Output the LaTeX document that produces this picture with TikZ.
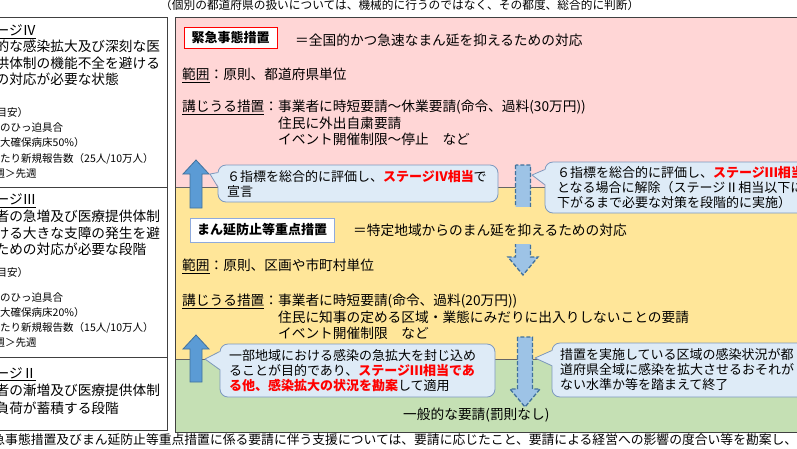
\documentclass[tikz,border=0pt]{standalone}
\usepackage{fontspec}
\setmainfont{Noto Sans CJK JP}
\usetikzlibrary{calc}
\definecolor{stagePink}{RGB}{255,214,214}
\definecolor{stageYellow}{RGB}{255,230,153}
\definecolor{stageGreen}{RGB}{197,224,180}
\definecolor{noteFill}{RGB}{222,235,247}
\definecolor{noteLine}{RGB}{124,152,190}
\definecolor{arrowFill}{RGB}{91,155,213}
\definecolor{arrowLine}{RGB}{65,113,156}
\definecolor{arrowPale}{RGB}{157,195,230}
\definecolor{boxBlue}{RGB}{143,170,220}
\newcommand{\redbold}[1]{\textcolor{red}{\bfseries #1}}
\newcommand{\markline}[1]{\setbox0\hbox{#1}\rlap{\rule[-3.2pt]{\wd0}{0.9pt}}\box0}

\begin{document}
\begin{tikzpicture}[x=1pt,y=-1pt,
  bigtext/.style={font=\fontsize{13.7}{16.5}\selectfont, inner sep=0pt, align=left},
  smalltext/.style={font=\fontsize{10.5}{15.4}\selectfont, inner sep=0pt, align=left},
  stagebox/.style={draw=black!75, line width=0.7pt},
  titlebox/.style={fill=white, line width=0.8pt, font=\fontsize{13}{13}\selectfont\bfseries, inner sep=0pt},
  callnote/.style={rounded corners=8pt, fill=noteFill, draw=noteLine, line width=0.8pt, font=\fontsize{13}{15}\selectfont, align=left, inner ysep=0pt},
  uparrow/.style={fill=arrowFill, draw=arrowLine, line width=0.8pt},
  downarrow/.style={fill=arrowPale, draw=arrowLine, line width=1.3pt, dash pattern=on 4pt off 2pt},
]
\useasboundingbox (0,0) rectangle (797,448);
\clip (0,0) rectangle (797,448);

% coloured bands
\fill[stagePink] (175,17) rectangle (830,187);
\fill[stageYellow] (175,187) rectangle (830,359);
\fill[stageGreen] (175,359) rectangle (830,432);
\draw[black!60, line width=0.6pt] (175,187) -- (830,187);
\draw[black!60, line width=0.6pt] (175,359) -- (830,359);
\draw[black!75, line width=0.8pt] (830,17) -- (175,17) -- (175,432) -- (830,432);

% stage boxes
\draw[stagebox] (-5,17) rectangle (167,187);
\draw[stagebox] (-5,187) rectangle (167,357);
\draw[stagebox] (-5,357) rectangle (167,430);

% block arrows
\foreach \tip/\bot in {160/208, 335/382}
  \draw[uparrow] (190,\bot) -- (190,\tip+14) -- (183,\tip+14) -- (196,\tip) -- (209,\tip+14) -- (202,\tip+14) -- (202,\bot) -- cycle;
\foreach \cx/\ya/\yb in {523/165/275, 525/337/407}
  \draw[downarrow] (\cx-7.5,\ya) -- (\cx-7.5,\yb-18) -- (\cx-15,\yb-18) -- (\cx,\yb) -- (\cx+15,\yb-18) -- (\cx+7.5,\yb-18) -- (\cx+7.5,\ya) -- cycle;

% headings and notes
\node[font=\fontsize{11.7}{11.7}\selectfont, anchor=west, inner sep=0pt] (caseNote) at (160,5) {（個別の都道府県の扱いについては、機械的に行うのではなく、その都度、総合的に判断）};
\node[font=\fontsize{12.8}{12.8}\selectfont, anchor=west, inner sep=0pt] (supportNote) at (-33.4,440) {※緊急事態措置及びまん延防止等重点措置に係る要請に伴う支援については、要請に応じたこと、要請による経営への影響の度合い等を勘案し、};

% left column
\node[bigtext, anchor=north west, font=\fontsize{13.7}{16.4}\selectfont] (stageFour) at (-32,24.5) {\markline{ステージⅣ}\\爆発的な感染拡大及び深刻な医\\療提供体制の機能不全を避ける\\ための対応が必要な状態};
\node[smalltext, anchor=north west] (stageFourGuide) at (-31.5,107) {\hspace*{17.5pt}（目安）\\・病床のひっ迫具合\\　（最大確保病床50\%）\\・週当たり新規報告数（25人/10万人）\\\hspace*{5pt}・今週＞先週};
\node[bigtext, anchor=north west, font=\fontsize{13.7}{16.7}\selectfont] (stageThree) at (-32,193.8) {\markline{ステージⅢ}\\感染者の急増及び医療提供体制\\における大きな支障の発生を避\\けるための対応が必要な段階};
\node[smalltext, anchor=north west, font=\fontsize{10.5}{15}\selectfont] (stageThreeGuide) at (-31.5,267.3) {\hspace*{17.5pt}（目安）\\[10pt]・病床のひっ迫具合\\　（最大確保病床20\%）\\・週当たり新規報告数（15人/10万人）\\\hspace*{5pt}・今週＞先週};
\node[bigtext, anchor=north west, font=\fontsize{13.7}{17.5}\selectfont] (stageTwo) at (-32,367.1) {\markline{ステージⅡ}\\感染者の漸増及び医療提供体制\\への負荷が蓄積する段階};

% emergency measures
\node[titlebox, draw=red, minimum width=93pt, minimum height=21pt] (emergency) at (230.5,37.5) {緊急事態措置};
\node[bigtext, anchor=west] (emergencyAim) at (295,40.7) {＝全国的かつ急速なまん延を抑えるための対応};
\node[bigtext, anchor=north west] (emergencyBody) at (182,67.8) {\markline{範囲}：原則、都道府県単位\\[15.5pt]\markline{講じうる措置}：事業者に時短要請～休業要請(命令、過料(30万円))\\\phantom{講じうる措置：}住民に外出自粛要請\\\phantom{講じうる措置：}イベント開催制限～停止　など};

% priority measures
\node[titlebox, draw=boxBlue, minimum width=144pt, minimum height=24pt] (priority) at (262,230) {まん延防止等重点措置};
\node[bigtext, anchor=base west, fill=stageYellow, text height=28pt, text depth=9pt] (priorityAim) at (353,235.2) {＝特定地域からのまん延を抑えるための対応};
\node[bigtext, anchor=north west] (priorityBody) at (182,258.8) {\markline{範囲}：原則、区画や市町村単位\\[18.5pt]\markline{講じうる措置}：事業者に時短要請(命令、過料(20万円))\\\phantom{講じうる措置：}住民に知事の定める区域・業態にみだりに出入りしないことの要請\\\phantom{講じうる措置：}イベント開催制限　など};

\node[bigtext, anchor=west] (general) at (403,415) {一般的な要請(罰則なし)};

% callouts
\node[callnote, minimum width=280pt, minimum height=37pt, inner xsep=9pt, text width=262pt] (declare) at (358,183.5) {６指標を総合的に評価し、\redbold{ステージⅣ相当}で\\宣言};
\node[callnote, minimum height=51pt, inner xsep=12pt, text width=291pt] (lift) at (702.5,187.5) {６指標を総合的に評価し、\redbold{ステージⅢ相当}\\となる場合に解除（ステージⅡ相当以下に\\下がるまで必要な対策を段階的に実施）};
\node[callnote, minimum height=53pt, inner xsep=9pt, text width=257pt] (contain) at (357.5,370.5) {一部地域における感染の急拡大を封じ込め\\ることが目的であり、\redbold{ステージⅢ相当であ}\\\redbold{る他、感染拡大の状況を勘案}して適用};
\node[callnote, minimum height=54pt, inner xsep=8pt, text width=302pt] (finish) at (711,370) {措置を実施している区域の感染状況が都\\道府県全域に感染を拡大させるおそれが\\ない水準か等を踏まえて終了};

\coordinate (tipA) at (210,174);
\coordinate (tipB) at (532,175);
\coordinate (tipC) at (205,359);
\coordinate (tipD) at (535,358);
\foreach \c/\t/\ya/\yb in {declare/tipA/8/22, lift/tipB/8/23, contain/tipC/8/26, finish/tipD/8/23} {
  \fill[noteFill] ($(\c.north west)+(1.2,\ya)$) -- (\t) -- ($(\c.north west)+(1.2,\yb)$) -- cycle;
  \draw[noteLine, line width=0.8pt, line join=round] ($(\c.north west)+(0,\ya)$) -- (\t) -- ($(\c.north west)+(0,\yb)$);
}
\end{tikzpicture}
\end{document}
